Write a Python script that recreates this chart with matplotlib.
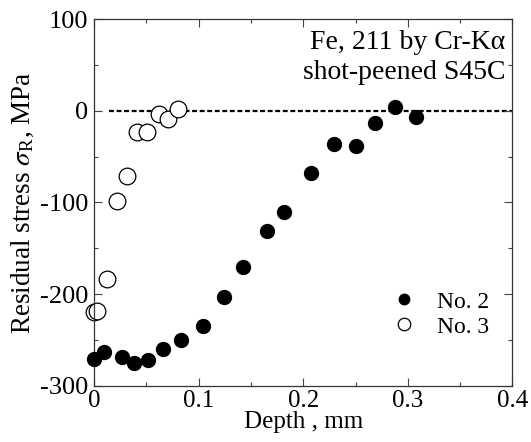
import numpy as np
import matplotlib
matplotlib.use('Agg')
import matplotlib.pyplot as plt
from matplotlib.ticker import MultipleLocator, FuncFormatter

plt.rcParams['font.family'] = ['Liberation Serif', 'DejaVu Serif']
plt.rcParams['mathtext.fontset'] = 'stix'

# No. 2 : depth (mm) and residual stress (MPa)
depth_no2 = [0.0, 0.010, 0.027, 0.038, 0.052, 0.066, 0.083, 0.104, 0.124, 0.142,
             0.165, 0.182, 0.207, 0.229, 0.250, 0.269, 0.288, 0.308]
stress_no2 = [-271, -263, -269, -275, -272, -260, -250, -235, -203, -170,
              -131, -110, -68, -36, -38, -13, 4, -7]

# No. 3
depth_no3 = [0.0, 0.003, 0.012, 0.022, 0.032, 0.041, 0.051, 0.062, 0.071, 0.080]
stress_no3 = [-219, -218, -183, -98, -71, -23, -23, -4, -9, 2]

fig = plt.figure(figsize=(5.31, 4.42), dpi=100)
ax = fig.add_axes([0.177, 0.127, 0.788, 0.830])

ax.axhline(0, xmin=0.035, xmax=1, color='black', lw=1.6, ls=(0, (2.2, 1.2)), zorder=1)

ax.plot(depth_no2, stress_no2, 'o', color='black', ms=10, clip_on=False,
        zorder=3, label='No. 2')
ax.plot(depth_no3, stress_no3, 'o', mfc='white', mec='black', mew=0.9, ms=12,
        clip_on=False, zorder=2, label='No. 3')

ax.set_xlim(0, 0.4)
ax.set_ylim(-300, 100)
ax.xaxis.set_major_locator(MultipleLocator(0.1))
ax.xaxis.set_minor_locator(MultipleLocator(0.05))
ax.yaxis.set_major_locator(MultipleLocator(100))
ax.yaxis.set_minor_locator(MultipleLocator(50))
ax.xaxis.set_major_formatter(FuncFormatter(lambda v, p: '0' if abs(v) < 1e-9 else '%.1f' % v))
ax.yaxis.set_major_formatter(FuncFormatter(lambda v, p: '%d' % v))
ax.tick_params(which='both', direction='in', top=True, right=True,
               labelsize=18, width=0.8, color='#444444')
ax.tick_params(which='major', length=6, pad=3)
ax.tick_params(axis='y', which='major', pad=4, labelsize=19)
ax.tick_params(which='minor', length=3)
for s in ax.spines.values():
    s.set_linewidth(0.9)
    s.set_color('#333333')

ax.set_xlabel('Depth , mm', fontsize=18, labelpad=-1)
ax.set_ylabel(r'Residual stress $\sigma_{\mathregular{R}}$, MPa', fontsize=19.5, labelpad=3)

ax.text(0.983, 0.937, 'Fe, 211 by Cr-K\u03b1', transform=ax.transAxes,
        ha='right', va='center', fontsize=20)
ax.text(0.983, 0.853, 'shot-peened S45C', transform=ax.transAxes,
        ha='right', va='center', fontsize=20)

leg = ax.legend(loc='center right', bbox_to_anchor=(0.985, 0.195), frameon=False,
                fontsize=17, handletextpad=0.9, labelspacing=0.15,
                handlelength=1.0, markerscale=0.75, borderpad=0.2)

fig.savefig('out.png', dpi=100)
